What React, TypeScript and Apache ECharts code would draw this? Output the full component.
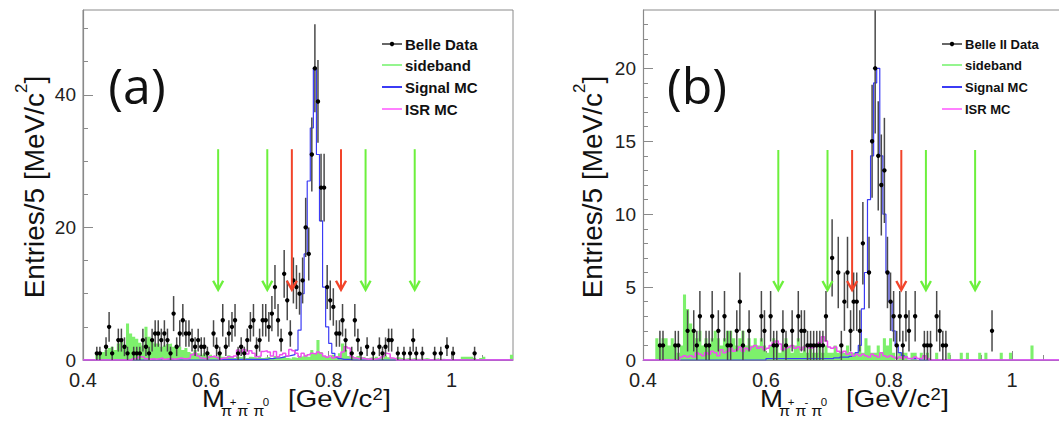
import React, { useEffect, useRef } from "react";
import * as echarts from "echarts";

// ---------- axes / binning ----------
const BIN_START = 0.4;
const BIN_WIDTH = 0.005;
const X_MIN = 0.4;
const X_MAX_A = 1.1;
const X_MAX_B = 1.0764; // right panel is cut at the picture's right edge
const X_LABELS = [0.4, 0.6, 0.8, 1.0];
const X_MINOR_TICKS = [0.45, 0.5, 0.55, 0.65, 0.7, 0.75, 0.85, 0.9, 0.95, 1.05];

const Y_MAX_A = 52.8;
const Y_LABELS_A = [0, 20, 40];
const Y_MINOR_A = [5, 10, 15, 25, 30, 35, 45, 50];
const Y_MAX_B = 24;
const Y_LABELS_B = [0, 5, 10, 15, 20];
const Y_MINOR_B = [1, 2, 3, 4, 6, 7, 8, 9, 11, 12, 13, 14, 16, 17, 18, 19, 21, 22, 23];

// ---------- arrows (mass positions, top / tip heights) ----------
const GREEN_ARROWS = [0.62, 0.7, 0.86, 0.94];
const RED_ARROWS = [0.74, 0.82];
const ARROW_Y_A = [31.8, 10.6];
const ARROW_Y_B = [14.4, 4.8];

// ---------- legend labels ----------
const LEGEND_A = ["Belle Data", "sideband", "Signal MC", "ISR MC"];
const LEGEND_B = ["Belle II Data", "sideband", "Signal MC", "ISR MC"];

// ---------- panel (a): Belle, entries per 5 MeV bin from 0.400 ----------
const DATA_A = [
  0, 0, 0, 0, 1, 1, 0, 2, 5, 1,
  0, 3, 3, 2, 1, 0, 1, 1, 1, 3,
  2, 1, 3, 4, 4, 3, 4, 3, 1, 7,
  2, 4, 6, 4, 4, 3, 2, 3, 2, 2,
  1, 0, 4, 2, 1, 6, 2, 4, 5, 6,
  1, 2, 1, 3, 5, 6, 2, 3, 6, 6,
  5, 7, 11, 6, 3, 13, 9, 4, 12, 11,
  10, 12, 20, 16, 31, 44, 39, 26, 26, 11,
  9, 8, 4, 4, 6, 3, 0, 1, 6, 3,
  1, 0, 2, 0, 1, 0, 2, 1, 2, 3,
  3, 0, 1, 0, 1, 0, 1, 3, 1, 0,
  1, 0, 0, 0, 1, 0, 1, 0, 2, 0,
  1, 0, 0, 0, 0, 0, 0, 1, 0, 0,
  0, 0, 0, 0, 0, 0, 0, 0, 0, 0,
];
const SIDEBAND_A = [
  0, 0, 0, 0, 0.8, 1.0, 1.2, 1.5, 1.8, 2.0,
  1.5, 2.5, 2.8, 2.0, 5.5, 4.0, 3.5, 3.2, 2.6, 2.2,
  5.0, 3.5, 3.0, 2.5, 2.5, 2.0, 2.2, 2.4, 2.5, 2.0,
  1.8, 2.0, 1.5, 1.8, 1.2, 1.0, 1.5, 1.0, 0.8, 1.0,
  0.5, 0.8, 0.6, 0.5, 0.8, 0.5, 0.4, 0.7, 0.5, 0.3,
  0.5, 0.4, 0.6, 0.3, 0.5, 0.4, 0.3, 0.5, 0.3, 0.4,
  0.5, 0.3, 0.6, 0.4, 0.3, 0.5, 0.3, 0.2, 0.4, 0.3,
  0.5, 0.6, 0.8, 0.5, 1.5, 1.0, 3.0, 1.2, 0.6, 0.5,
  0.4, 0.8, 0.5, 1.0, 2.5, 1.5, 0.6, 0.5, 0.4, 0.6,
  0.4, 0.5, 0.3, 0.4, 0.3, 0.5, 0.3, 0.2, 0.6, 0.4,
  0.3, 0.2, 0.4, 0.3, 0.2, 0.3, 0.2, 0.3, 0.2, 0.2,
  0.2, 0.3, 0.2, 0, 0.2, 0.3, 0, 0.2, 0, 0,
  0, 0, 0, 0.5, 0.5, 0.5, 0.5, 0.3, 0, 0.3,
  0.5, 0, 0, 0, 0, 0, 0, 0, 0, 0.8,
];
const SIGNAL_A = [
  0, 0, 0, 0, 0, 0, 0, 0, 0, 0,
  0, 0, 0, 0, 0, 0, 0, 0, 0, 0,
  0, 0, 0, 0, 0, 0, 0, 0, 0, 0,
  0, 0, 0, 0, 0, 0, 0, 0, 0, 0,
  0, 0, 0, 0, 0.1, 0.1, 0.1, 0.1, 0.1, 0.1,
  0.1, 0.1, 0.1, 0.1, 0.1, 0.1, 0.1, 0.1, 0.1, 0.1,
  0.2, 0.2, 0.3, 0.3, 0.4, 0.5, 0.6, 0.7, 0.8, 1.5,
  4.5, 10, 16, 27, 35, 44, 31, 21, 11, 5,
  2.5, 1, 0.4, 0.2, 0.1, 0.1, 0.1, 0, 0, 0,
  0, 0, 0, 0, 0, 0, 0, 0, 0, 0,
  0, 0, 0, 0, 0, 0, 0, 0, 0, 0,
  0, 0, 0, 0, 0, 0, 0, 0, 0, 0,
  0, 0, 0, 0, 0, 0, 0, 0, 0, 0,
  0, 0, 0, 0, 0, 0, 0, 0, 0, 0,
];
const ISR_A = [
  0, 0, 0, 0, 0, 0, 0, 0, 0, 0,
  0, 0, 0, 0, 0, 0, 0.2, 0.3, 0.5, 0.4,
  0.2, 0.1, 0.2, 0.1, 0.2, 0.3, 0.1, 0.2, 0.2, 0.1,
  0.2, 0.3, 0.2, 0.2, 0.3, 0.8, 1.0, 0.6, 0.3, 0.2,
  0.3, 0.5, 0.6, 0.4, 0.2, 0.3, 0.3, 0.5, 0.4, 0.6,
  1.5, 1.2, 1.6, 0.9, 1.4, 1.0, 0.5, 0.6, 1.3, 1.4,
  1.2, 0.6, 1.3, 0.5, 0.8, 1.0, 0.6, 1.6, 1.4, 1.0,
  0.5, 1.0, 0.6, 0.8, 1.0, 0.9, 1.2, 1.0, 0.6, 0.4,
  0.6, 0.3, 0.5, 0.4, 1.2, 2.0, 1.8, 0.5, 0.3, 0.2,
  0.3, 0.2, 0.1, 0.2, 0.1, 0.2, 0.3, 0.5, 1.0, 0.9,
  0.3, 0.2, 0, 0, 0, 0, 0, 0, 0, 0,
  0, 0, 0, 0, 0, 0, 0, 0, 0, 0,
  0, 0, 0, 0, 0, 0, 0, 0, 0, 0,
  0, 0, 0, 0, 0, 0, 0, 0, 0, 0,
];

// ---------- panel (b): Belle II ----------
const DATA_B = [
  0, 0, 0, 0, 0, 1, 1, 0, 0, 0,
  1, 1, 0, 0, 2, 0, 2, 1, 3, 0,
  1, 1, 3, 0, 2, 0, 3, 1, 1, 0,
  2, 4, 1, 0, 2, 0, 0, 0, 3, 2,
  0, 3, 1, 1, 0, 2, 1, 0, 2, 0,
  3, 2, 2, 1, 1, 1, 1, 1, 1, 3,
  0, 7, 0, 6, 1, 4, 6, 2, 4, 4,
  2, 8, 0, 6, 15, 20, 14, 12, 13, 6,
  4, 3, 1, 3, 1, 3, 2, 0, 3, 0,
  0, 1, 1, 1, 0, 3, 2, 1, 1, 0,
  0, 0, 0, 0, 0, 0, 0, 0, 0, 0,
  0, 0, 0, 2, 0, 0, 0, 0, 0, 0,
  0, 0, 0, 0, 0, 0, 0, 0, 0, 0,
  0, 0, 0, 0, 0, 0, 0, 0, 0, 0,
];
const SIDEBAND_B = [
  0, 0, 0, 0, 1.5, 1.0, 1.5, 1.5, 1.0, 1.5,
  1.0, 0.5, 1.0, 4.5, 3.5, 2.5, 2.0, 1.5, 2.0, 1.0,
  1.5, 1.0, 1.5, 2.0, 1.5, 1.0, 1.5, 2.0, 2.0, 1.5,
  1.0, 1.5, 2.0, 1.0, 1.5, 1.0, 1.5, 1.0, 1.5, 1.0,
  0.5, 1.0, 1.5, 1.0, 0.5, 1.0, 1.5, 1.0, 0.5, 1.0,
  1.5, 0.5, 1.0, 0.5, 1.0, 0.5, 0.5, 1.0, 0.5, 1.0,
  0.5, 0.5, 1.0, 0.5, 0.5, 0.5, 1.0, 0.5, 0.5, 0.5,
  1.0, 0.5, 1.5, 1.0, 0.5, 0.5, 1.0, 0.5, 1.5, 1.0,
  1.5, 0.5, 0, 0.5, 0.5, 0.5, 0, 0.5, 0.5, 0,
  0.5, 0, 0.5, 0, 0, 0.5, 0, 0, 0, 0.5,
  0, 0, 0, 0.5, 0, 0.5, 0, 0, 0, 0.5,
  0, 0.5, 0, 0, 0, 0, 0.5, 0, 0, 0.5,
  0, 0, 0, 0, 0, 0, 1.0, 0, 0, 0,
  0, 0, 0, 0, 0, 0, 0, 0, 0, 0,
];
const SIGNAL_B = [
  0, 0, 0, 0, 0, 0, 0, 0, 0, 0,
  0, 0, 0, 0, 0, 0, 0, 0, 0, 0,
  0, 0, 0, 0, 0, 0, 0, 0, 0, 0,
  0, 0, 0, 0, 0, 0, 0, 0, 0, 0,
  0.1, 0.1, 0.1, 0.1, 0.1, 0.1, 0.1, 0.1, 0.1, 0.1,
  0.1, 0.1, 0.1, 0.1, 0.1, 0.1, 0.1, 0.1, 0.1, 0.1,
  0.1, 0.1, 0.15, 0.15, 0.2, 0.2, 0.2, 0.25, 0.3, 0.5,
  1, 3.5, 6, 11, 14, 19, 20, 14, 10, 6,
  4, 2, 1, 0.5, 0.3, 0.2, 0.1, 0.1, 0.1, 0.1,
  0, 0, 0, 0, 0, 0, 0, 0, 0, 0,
  0, 0, 0, 0, 0, 0, 0, 0, 0, 0,
  0, 0, 0, 0, 0, 0, 0, 0, 0, 0,
  0, 0, 0, 0, 0, 0, 0, 0, 0, 0,
  0, 0, 0, 0, 0, 0, 0, 0, 0, 0,
];
const ISR_B = [
  0, 0, 0, 0, 0, 0, 0, 0, 0, 0,
  0, 0, 0.2, 0.3, 0.2, 0.3, 0.2, 0.5, 0.4, 0.3,
  0.5, 0.4, 0.6, 0.5, 0.3, 0.7, 0.5, 0.6, 0.8, 0.6,
  0.7, 0.9, 0.6, 0.8, 0.7, 0.9, 1.0, 0.8, 0.9, 0.7,
  0.8, 1.0, 1.2, 1.3, 1.1, 0.7, 0.8, 0.9, 1.0, 0.8,
  0.9, 0.7, 0.9, 1.0, 0.8, 0.9, 1.0, 1.2, 1.6, 1.3,
  0.9, 0.8, 0.9, 0.6, 0.5, 0.6, 0.4, 0.5, 0.3, 0.4,
  0.3, 0.4, 0.3, 0.2, 0.4, 0.3, 0.2, 0.5, 0.3, 0.2,
  0.3, 0.2, 0.1, 0.2, 0.1, 0.2, 0.1, 0.1, 0.2, 0.1,
  0.1, 0.3, 0.1, 0, 0, 0, 0, 0, 0, 0,
  0, 0, 0, 0, 0, 0, 0, 0, 0, 0,
  0, 0, 0, 0, 0, 0, 0, 0, 0, 0,
  0, 0, 0, 0, 0, 0, 0, 0, 0, 0,
  0, 0, 0, 0, 0, 0, 0, 0, 0, 0,
];

// ---------- styles ----------
const FONT = '"Liberation Sans", Arial, Helvetica, sans-serif';
const FRAME = "#8a8a8a";
const GREEN_FILL = "#7df06c";
const LEG_GREEN = "#95f58f";
const BLUE = "#3b3bf5";
const MAGENTA = "#ee4fee";
const LEG_MAGENTA = "#ff80ff";
const ARROW_GREEN = "#6cf03c";
const ARROW_RED = "#f2442a";
const ERR_COLOR = "#4a4a4a";

const histLine = (vals: number[]) => {
  const pts = vals.map((v, i) => [BIN_START + i * BIN_WIDTH, v]);
  pts.push([BIN_START + vals.length * BIN_WIDTH, vals[vals.length - 1]]);
  return pts;
};
const pointsOf = (vals: number[]) =>
  vals
    .map((v, i) => [BIN_START + (i + 0.5) * BIN_WIDTH, v])
    .filter((p) => p[1] > 0);

const renderPoint = (_params: any, api: any) => {
  const x = api.value(0);
  const n = api.value(1);
  const e = Math.sqrt(n);
  const c = api.coord([x, n]);
  const t = api.coord([x, n + e]);
  const b = api.coord([x, n - e]);
  const l = api.coord([x - BIN_WIDTH / 2, n]);
  const r = api.coord([x + BIN_WIDTH / 2, n]);
  const st = { stroke: ERR_COLOR, lineWidth: 1.5 };
  return {
    type: "group",
    children: [
      { type: "line", shape: { x1: c[0], y1: t[1], x2: c[0], y2: b[1] }, style: st },
      { type: "line", shape: { x1: l[0], y1: c[1], x2: r[0], y2: c[1] }, style: st },
      { type: "circle", shape: { cx: c[0], cy: c[1], r: 2.2 }, style: { fill: "#000" } },
    ],
  };
};

const renderArrow = (_params: any, api: any) => {
  const x = api.value(0);
  const color = api.value(3) === 0 ? ARROW_GREEN : ARROW_RED;
  const a = api.coord([x, api.value(1)]);
  const b = api.coord([x, api.value(2)]);
  return {
    type: "group",
    children: [
      { type: "line", shape: { x1: a[0], y1: a[1], x2: b[0], y2: b[1] }, style: { stroke: color, lineWidth: 2 } },
      {
        type: "polyline",
        shape: { points: [[b[0] - 5, b[1] - 9], [b[0], b[1]], [b[0] + 5, b[1] - 9]] },
        style: { stroke: color, lineWidth: 2.4, fill: "none" },
      },
    ],
  };
};

const PANELS = [
  {
    left: 83, width: 430, xMax: X_MAX_A, fullFrame: true,
    yMax: Y_MAX_A, yLabels: Y_LABELS_A, yMinor: Y_MINOR_A,
    data: DATA_A, side: SIDEBAND_A, sig: SIGNAL_A, isr: ISR_A, arrowY: ARROW_Y_A,
    legend: LEGEND_A, legX: 382, legTextX: 405, legFs: 15,
    tag: "(a)", tagX: 137, yTitleX: 30.5, xTitleX: 202,
  },
  {
    left: 643, width: 416, xMax: X_MAX_B, fullFrame: false,
    yMax: Y_MAX_B, yLabels: Y_LABELS_B, yMinor: Y_MINOR_B,
    data: DATA_B, side: SIDEBAND_B, sig: SIGNAL_B, isr: ISR_B, arrowY: ARROW_Y_B,
    legend: LEGEND_B, legX: 942, legTextX: 965, legFs: 13,
    tag: "(b)", tagX: 697, yTitleX: 588.5, xTitleX: 760,
  },
];
const LEGEND_ROWS = [44, 65, 87, 109];

function buildOption() {
  const grid: any[] = [];
  const xAxis: any[] = [];
  const yAxis: any[] = [];
  const series: any[] = [];
  const graphic: any[] = [];

  PANELS.forEach((p, k) => {
    grid.push({
      left: p.left, top: 10, width: p.width, height: 350,
      show: p.fullFrame, borderColor: FRAME, borderWidth: 1, backgroundColor: "transparent",
    });
    if (!p.fullFrame) {
      graphic.push({
        type: "line", z: 9,
        shape: { x1: p.left, y1: 10, x2: p.left + p.width, y2: 10 },
        style: { stroke: FRAME, lineWidth: 1 },
      });
    }
    const minorX = X_MINOR_TICKS.filter((v) => v < p.xMax);
    xAxis.push({
      gridIndex: k, type: "value", min: X_MIN, max: p.xMax, position: "bottom",
      axisLine: { show: true, lineStyle: { color: FRAME, width: 1 } },
      axisTick: { show: true, inside: true, length: 9, customValues: X_LABELS, lineStyle: { color: FRAME } },
      axisLabel: { customValues: X_LABELS, fontSize: 20, color: "#222", margin: 10, fontFamily: FONT },
      splitLine: { show: false },
    });
    xAxis.push({
      gridIndex: k, type: "value", min: X_MIN, max: p.xMax, position: "bottom",
      axisLine: { show: false },
      axisTick: { show: true, inside: true, length: 5, customValues: minorX, lineStyle: { color: FRAME } },
      axisLabel: { show: false }, splitLine: { show: false },
    });
    yAxis.push({
      gridIndex: k, type: "value", min: 0, max: p.yMax, position: "left",
      axisLine: { show: true, lineStyle: { color: FRAME, width: 1.2 } },
      axisTick: { show: true, inside: true, length: 10, customValues: p.yLabels, lineStyle: { color: FRAME } },
      axisLabel: { customValues: p.yLabels, fontSize: 19, color: "#222", margin: 7, fontFamily: FONT },
      splitLine: { show: false },
    });
    yAxis.push({
      gridIndex: k, type: "value", min: 0, max: p.yMax, position: "left",
      axisLine: { show: false },
      axisTick: { show: true, inside: true, length: 5, customValues: p.yMinor, lineStyle: { color: FRAME } },
      axisLabel: { show: false }, splitLine: { show: false },
    });
    const ax = k * 2;
    series.push({
      type: "line", xAxisIndex: ax, yAxisIndex: ax, data: histLine(p.side), step: "end",
      symbol: "none", showSymbol: false, lineStyle: { width: 0, opacity: 0 },
      areaStyle: { color: GREEN_FILL, opacity: 1 }, z: 2, silent: true,
    });
    series.push({
      type: "line", xAxisIndex: ax, yAxisIndex: ax, data: histLine(p.sig), step: "end",
      symbol: "none", showSymbol: false, lineStyle: { color: BLUE, width: 1.2 }, z: 3, silent: true,
    });
    series.push({
      type: "line", xAxisIndex: ax, yAxisIndex: ax, data: histLine(p.isr), step: "end",
      symbol: "none", showSymbol: false, lineStyle: { color: MAGENTA, width: 1.5 }, z: 4, silent: true,
    });
    series.push({
      type: "custom", xAxisIndex: ax, yAxisIndex: ax, data: pointsOf(p.data),
      renderItem: renderPoint, clip: true, z: 5, silent: true,
    });
    const arrows = [
      ...GREEN_ARROWS.map((x) => [x, p.arrowY[0], p.arrowY[1], 0]),
      ...RED_ARROWS.map((x) => [x, p.arrowY[0], p.arrowY[1], 1]),
    ];
    series.push({
      type: "custom", xAxisIndex: ax, yAxisIndex: ax, data: arrows,
      renderItem: renderArrow, clip: false, z: 6, silent: true,
    });

    // legend
    const colors = ["#000", LEG_GREEN, BLUE, LEG_MAGENTA];
    LEGEND_ROWS.forEach((y, i) => {
      graphic.push({ type: "line", shape: { x1: p.legX, y1: y, x2: p.legX + 20, y2: y }, style: { stroke: colors[i], lineWidth: i === 0 ? 1.2 : 2 }, z: 10 });
      if (i === 0) graphic.push({ type: "circle", shape: { cx: p.legX + 10, cy: y, r: 2.2 }, style: { fill: "#000" }, z: 10 });
      graphic.push({
        type: "text", x: p.legTextX, y, z: 10,
        style: { text: p.legend[i], fontSize: p.legFs, fontWeight: "bold", fontFamily: FONT, fill: "#111", align: "left", verticalAlign: "middle" },
      });
    });
    // panel tag
    graphic.push({
      type: "text", x: p.tagX, y: 85, z: 10,
      style: { text: p.tag, fontSize: 50, fontFamily: '"Open Sans", sans-serif', fill: "#111", align: "center", verticalAlign: "middle" },
    });
    // y title
    graphic.push({
      type: "text", x: p.yTitleX, y: 187, rotation: Math.PI / 2, z: 10,
      style: {
        text: "{a|Entries/5 [MeV/c}{b|2}{a|]}",
        align: "center", verticalAlign: "middle",
        rich: {
          a: { fontSize: 28, lineHeight: 36, verticalAlign: "bottom", fontFamily: FONT, fill: "#111" },
          b: { fontSize: 17, lineHeight: 13, verticalAlign: "top", fontFamily: FONT, fill: "#111" },
        },
      },
    });
    // x title
    const t = (text: string, x: number, y: number, fs: number) => ({
      type: "text", x, y,
      style: { text, fontSize: fs, fontFamily: FONT, fill: "#111", align: "left", verticalAlign: "middle" },
    });
    graphic.push({
      type: "group", x: p.xTitleX, y: 0, scaleX: 1.15, z: 10,
      children: [
        t("M", 0, 398.6, 24),
        t("π", 16.5, 410.5, 14),
        t("+", 24.2, 402, 10),
        t("π", 30.6, 410.5, 14),
        t("-", 38.8, 402, 10),
        t("π", 44.6, 410.5, 14),
        t("0", 52.8, 402, 10),
        t("[GeV/c", 74.8, 398.6, 24),
        t("2", 148.3, 394.4, 16),
        t("]", 157.6, 398.6, 24),
      ],
    });
  });

  return {
    animation: false,
    backgroundColor: "#fff",
    textStyle: { fontFamily: FONT },
    grid, xAxis, yAxis, series, graphic,
  };
}

export default function App() {
  const ref = useRef<HTMLDivElement>(null);
  useEffect(() => {
    if (!ref.current) return;
    const chart = echarts.init(ref.current, undefined, { renderer: "svg" });
    chart.setOption(buildOption() as any);
    return () => chart.dispose();
  }, []);
  return (
    <div
      ref={ref}
      style={{ position: "absolute", left: 0, top: 0, width: 1059, height: 429, background: "#fff" }}
    />
  );
}
